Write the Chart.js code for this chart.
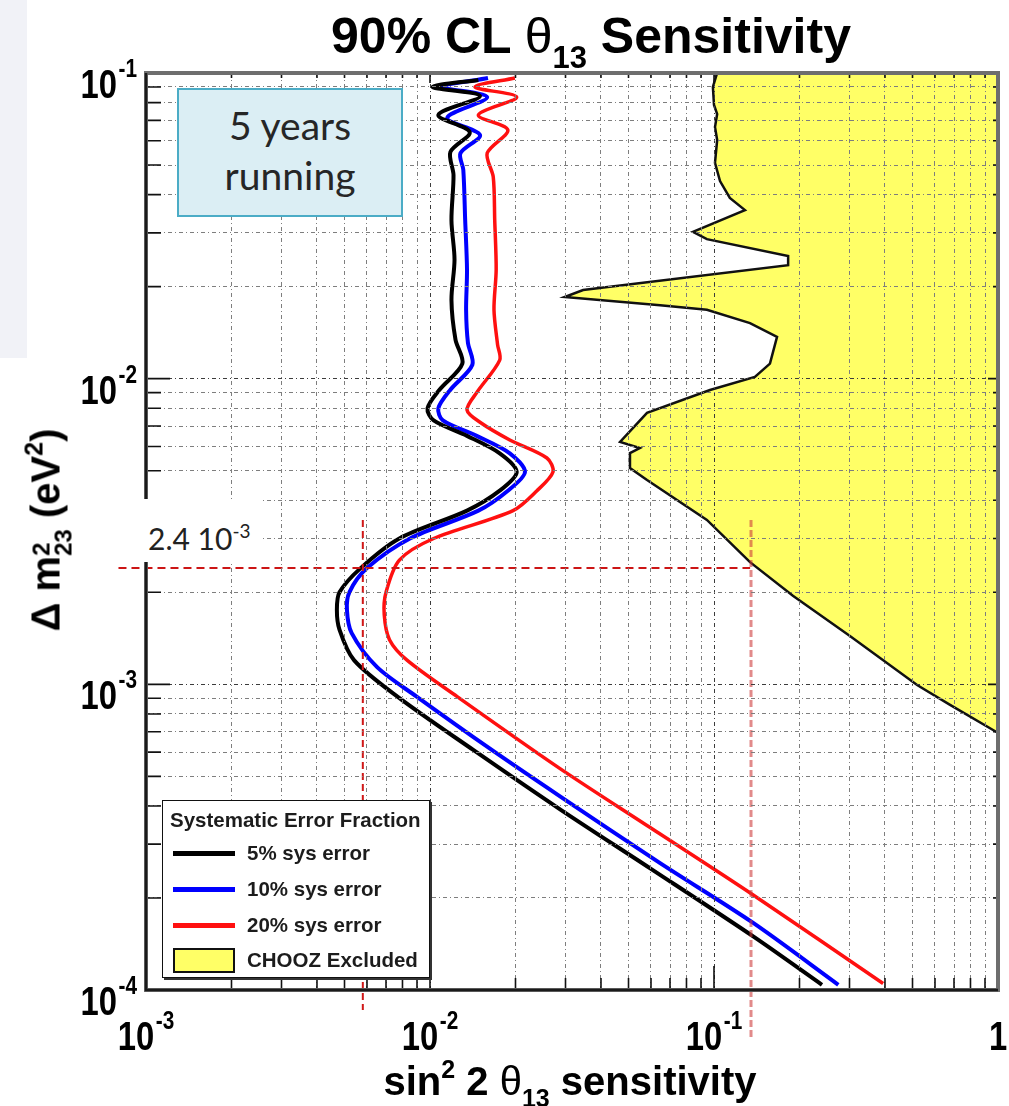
<!DOCTYPE html>
<html><head><meta charset="utf-8">
<script src="https://cdn.jsdelivr.net/npm/chart.js@4.4.1/dist/chart.umd.min.js"></script>
<style>
html,body{margin:0;padding:0;background:#fff;}
#wrap{position:relative;width:1009px;height:1106px;overflow:hidden;background:#fff;}
#c{position:absolute;left:0;top:0;z-index:1;}
.a{position:absolute;white-space:nowrap;z-index:2;}
.b{font-family:"Liberation Sans",Arial,Helvetica,sans-serif;font-weight:bold;color:#000;}
.th{font-weight:normal;}
.leg{font-family:"Liberation Sans",Arial,sans-serif;font-weight:bold;font-size:20.5px;line-height:20px;color:#1c1c1c;}
</style></head>
<body><div id="wrap">
<div class="a" style="left:0;top:0;width:27px;height:358px;background:#f1f2f7;z-index:0;"></div>
<div class="a b" style="left:340px;top:-42px;font-size:40px;line-height:40px;color:#ee1111;font-style:italic;">y</div>
<canvas id="c" width="1009" height="1106"></canvas>

<div class="a b" style="left:591px;top:11px;transform:translateX(-50%);font-size:50px;line-height:50px;">90% CL <span class="th">θ</span><span style="font-size:31px;vertical-align:-15px;">13</span> Sensitivity</div>

<div class="a b" style="left:570px;top:1049px;transform:translateX(-50%);font-size:40px;line-height:40px;">sin<span style="font-size:25px;vertical-align:17px;">2</span> 2 <span class="th">θ</span><span style="font-size:25px;vertical-align:-12px;">13</span> sensitivity</div>

<div class="a b" style="left:44px;top:530px;transform:translate(-50%,-50%) rotate(-90deg);font-size:40px;line-height:40px;">Δ m<span style="display:inline-block;font-size:24px;line-height:22px;vertical-align:-12px;text-align:left;">2<br>23</span> (eV<span style="font-size:25px;vertical-align:17px;">2</span>)</div>

<div class="a" style="left:177px;top:88px;width:226px;height:129px;box-sizing:border-box;background:#dbeef4;border:2px solid #4bacc6;text-align:center;font-family:Lato,'Open Sans',sans-serif;font-size:39px;line-height:50px;color:#262626;padding-top:10px;">5 years<br>running</div>

<div class="a" style="left:138px;top:499px;width:122px;height:63px;background:#fff;"></div>
<div class="a" style="left:148px;top:516px;font-family:Lato,'Open Sans',sans-serif;font-size:30px;line-height:30px;color:#222;">2.4 10<span style="font-size:19px;vertical-align:12px;">-3</span></div>

<div class="a" style="left:162px;top:800px;width:268px;height:178px;box-sizing:border-box;background:#fff;border:1.5px solid #111;box-shadow:2px 2px 0 #333;"></div>
<div class="a leg" style="left:170px;top:810px;">Systematic Error Fraction</div>
<div class="a" style="left:173px;top:851px;width:62px;height:5px;background:#000;"></div>
<div class="a leg" style="left:247px;top:843px;">5% sys error</div>
<div class="a" style="left:173px;top:887px;width:62px;height:5px;background:#0000ff;"></div>
<div class="a leg" style="left:247px;top:879px;">10% sys error</div>
<div class="a" style="left:173px;top:923px;width:62px;height:5px;background:#ff1010;"></div>
<div class="a leg" style="left:247px;top:915px;">20% sys error</div>
<div class="a" style="left:173px;top:948px;width:62px;height:25px;box-sizing:border-box;background:#ffff66;border:2px solid #111;"></div>
<div class="a leg" style="left:247px;top:950px;">CHOOZ Excluded</div>
</div>
<script>
// ---- data (sin^2 2theta13 , delta m^2_23 [eV^2]) ----
const s5x  = [0.0148,0.0102,0.0150,0.0107,0.0138,0.0118,0.0121,0.0119,0.0122,0.0119,0.0123,0.0130,0.0108,0.0098,0.0103,0.0135,0.0176,0.0202,0.0176,0.0135,0.0078,0.0057,0.0048,0.0047,0.0048,0.0054,0.0077,0.0142,0.0287,0.0596,0.137,0.240];
const s5y  = [0.0949,0.0900,0.0841,0.0729,0.0641,0.0552,0.0464,0.0330,0.0245,0.0181,0.0134,0.0112,0.0092,0.0080,0.0073,0.0065,0.0057,0.00495,0.0043,0.0037,0.0030,0.0024,0.0020,0.00175,0.00151,0.00120,0.00091,0.00061,0.00039,0.00025,0.00015,0.000104];
const s10x = [0.0160,0.0111,0.0159,0.0115,0.0150,0.0128,0.0131,0.0133,0.0135,0.0134,0.0136,0.0141,0.0118,0.0107,0.0111,0.0146,0.0191,0.0216,0.0188,0.0148,0.0085,0.0060,0.0052,0.0051,0.0053,0.0065,0.0090,0.0165,0.0287,0.0646,0.137,0.274];
const s10y = [0.0963,0.0900,0.0834,0.0713,0.0627,0.0547,0.0482,0.0330,0.0227,0.0168,0.0131,0.0111,0.0092,0.0080,0.0073,0.0065,0.0057,0.00495,0.0043,0.0037,0.0030,0.0024,0.0020,0.00175,0.00147,0.00114,0.00091,0.00061,0.00043,0.00026,0.000166,0.000104];
const s20x = [0.0199,0.0144,0.0202,0.0148,0.0188,0.0159,0.0167,0.0169,0.0171,0.0168,0.0173,0.0176,0.0146,0.0135,0.0150,0.0191,0.0258,0.0271,0.0238,0.0196,0.0103,0.0078,0.0070,0.0069,0.0072,0.0083,0.0125,0.0287,0.0596,0.137,0.394];
const s20y = [0.0963,0.0900,0.0834,0.0729,0.0651,0.0547,0.0457,0.0330,0.0227,0.0168,0.0129,0.0115,0.0090,0.0079,0.0072,0.0063,0.0055,0.00495,0.0043,0.0037,0.0030,0.00255,0.0020,0.00169,0.00140,0.00120,0.00091,0.00053,0.00034,0.000205,0.000105];
const choozX = [0.1026,0.0991,0.1000,0.1026,0.1008,0.1026,0.1008,0.1050,0.1137,0.1285,0.0843,0.0944,0.1824,0.1824,0.0346,0.0298,0.0646,0.0944,0.1339,0.1667,0.1574,0.1393,0.0968,0.0581,0.0467,0.0548,0.0506,0.0506,0.0581,0.0944,0.1339,0.1896,0.301,0.519,0.678,0.991];
const choozY = [0.1,0.0900,0.0786,0.0734,0.0666,0.0604,0.0508,0.0443,0.0390,0.0356,0.0302,0.0286,0.0252,0.0235,0.0195,0.0185,0.0174,0.0168,0.0152,0.0137,0.0112,0.01013,0.00918,0.00773,0.00621,0.00593,0.00571,0.00510,0.00466,0.00345,0.00251,0.00195,0.00144,0.000995,0.000857,0.000697];
const choozCornerX = [1, 1];
const choozCornerY = [0.000690, 0.1];
const refHX = [0.0008, 0.134], refHY = [0.0024, 0.0024];
const refV1X = [0.0058, 0.0058], refV1Y = [0.00345, 0.000086];
const refV2X = [0.135, 0.135], refV2Y = [0.00345, 0.000069];
const xMajor = [0.001, 0.01, 0.1, 1];
const xMajorLabels = ['10^-3', '10^-2', '10^-1', '1'];
const yMajor = [0.1, 0.01, 0.001, 0.0001];
const yMajorLabels = ['10^-1', '10^-2', '10^-3', '10^-4'];
const minorSteps = [1, 2, 3, 4, 5, 6, 7, 8, 9];

function pts(xs, ys) { return xs.map((x, i) => ({x: x, y: ys[i]})); }
function gridVals(majors) {
  const lo = Math.min(...majors), hi = Math.max(...majors);
  const out = [];
  for (let d = lo; d < hi * 0.999; d *= 10) minorSteps.forEach(k => out.push(k * d));
  out.push(hi);
  return out;
}
function isMajor(v) { const l = Math.log10(v); return Math.abs(l - Math.round(l)) < 1e-6; }

function drawPow(ctx, px, py, lab, align) {
  const parts = lab.split('^'), b = parts[0], e = parts[1] || '';
  const SX = 0.8;
  const F1 = 'bold 41px "Liberation Sans", Arial, sans-serif';
  const F2 = 'bold 26px "Liberation Sans", Arial, sans-serif';
  ctx.font = F1; const wb = ctx.measureText(b).width;
  ctx.font = F2; const we = e ? ctx.measureText(e).width + 2 : 0;
  const tot = (wb + we) * SX;
  const x0 = align === 'center' ? px - tot / 2 : px - tot;
  ctx.save();
  ctx.translate(x0, py); ctx.scale(SX, 1);
  ctx.fillStyle = '#000'; ctx.textAlign = 'left'; ctx.textBaseline = 'alphabetic';
  ctx.font = F1; ctx.fillText(b, 0, 0);
  if (e) { ctx.font = F2; ctx.fillText(e, wb + 2, -21); }
  ctx.restore();
}

const axisDeco = {
  id: 'axisDeco',
  afterDraw(chart) {
    const {ctx, chartArea: a, scales: {x, y}} = chart;
    ctx.save();
    ctx.strokeStyle = '#111'; ctx.lineWidth = 1.6;
    ctx.beginPath();
    x.ticks.forEach(t => {
      const p = x.getPixelForValue(t.value), m = isMajor(t.value);
      ctx.moveTo(p, a.bottom); ctx.lineTo(p, a.bottom - (m ? 24 : 12));
      ctx.moveTo(p, a.top); ctx.lineTo(p, a.top + (m ? 10 : 5));
    });
    y.ticks.forEach(t => {
      const p = y.getPixelForValue(t.value), m = isMajor(t.value);
      ctx.moveTo(a.left, p); ctx.lineTo(a.left + (m ? 24 : 15), p);
      ctx.moveTo(a.right, p); ctx.lineTo(a.right - (m ? 10 : 5), p);
    });
    ctx.stroke();
    ctx.strokeStyle = '#6e6e6e'; ctx.lineWidth = 4;
    ctx.strokeRect(a.left, a.top, a.right - a.left, a.bottom - a.top);
    ctx.strokeStyle = '#1a1a1a'; ctx.lineWidth = 2.5;
    ctx.beginPath();
    ctx.moveTo(a.left, a.top); ctx.lineTo(a.left, a.bottom); ctx.lineTo(a.right, a.bottom);
    ctx.stroke();
    xMajor.forEach((v, i) => drawPow(ctx, x.getPixelForValue(v), a.bottom + 60, xMajorLabels[i], 'center'));
    yMajor.forEach((v, i) => drawPow(ctx, a.left - 9, y.getPixelForValue(v) + 25, yMajorLabels[i], 'right'));
    ctx.restore();
  }
};

function gridColor(c) { const v = c.tick && c.tick.value; return v && isMajor(v) ? '#3c3c3c' : '#7e7e7e'; }

const base = {showLine: true, pointRadius: 0, pointHoverRadius: 0, fill: false};
new Chart(document.getElementById('c'), {
  type: 'scatter',
  data: {datasets: [
    Object.assign({}, base, {label: 'refH', data: pts(refHX, refHY), borderColor: '#cc1515', borderWidth: 2, borderDash: [8, 5], clip: false, order: 1}),
    Object.assign({}, base, {label: 'refV1', data: pts(refV1X, refV1Y), borderColor: '#d01818', borderWidth: 2, borderDash: [7, 4], clip: false, order: 1}),
    Object.assign({}, base, {label: 'refV2', data: pts(refV2X, refV2Y), borderColor: 'rgba(205,60,60,0.6)', borderWidth: 3, borderDash: [7, 3], clip: false, order: 1}),
    Object.assign({}, base, {label: '5% sys error', data: pts(s5x, s5y), borderColor: '#000000', borderWidth: 4, tension: 0.3, order: 3}),
    Object.assign({}, base, {label: '10% sys error', data: pts(s10x, s10y), borderColor: '#0000ff', borderWidth: 4, tension: 0.3, order: 4}),
    Object.assign({}, base, {label: '20% sys error', data: pts(s20x, s20y), borderColor: '#ff1010', borderWidth: 3.5, tension: 0.3, order: 5}),
    Object.assign({}, base, {label: 'CHOOZ edge', data: pts(choozX, choozY), borderColor: '#111', borderWidth: 2.5, tension: 0, order: 9}),
    Object.assign({}, base, {label: 'CHOOZ Excluded', data: pts(choozX.concat(choozCornerX), choozY.concat(choozCornerY)), borderWidth: 0, borderColor: 'rgba(0,0,0,0)', backgroundColor: '#ffff66', fill: 'shape', tension: 0, order: 10})
  ]},
  options: {
    responsive: false, animation: false, events: [],
    layout: {padding: {left: 146, right: 11, top: 73, bottom: 116}},
    plugins: {legend: {display: false}, tooltip: {enabled: false}},
    scales: {
      x: {type: 'logarithmic', min: 0.001, max: 1,
          afterBuildTicks: s => { s.ticks = gridVals(xMajor).map(v => ({value: v})); },
          ticks: {display: false},
          grid: {drawTicks: false, color: gridColor, lineWidth: 1, z: 1},
          border: {display: false, dash: [4, 3, 1, 3]}},
      y: {type: 'logarithmic', min: 0.0001, max: 0.1,
          afterBuildTicks: s => { s.ticks = gridVals(yMajor).map(v => ({value: v})); },
          ticks: {display: false},
          grid: {drawTicks: false, color: gridColor, lineWidth: 1, z: 1},
          border: {display: false, dash: [4, 3, 1, 3]}}
    }
  },
  plugins: [axisDeco]
});
</script>
</body></html>
